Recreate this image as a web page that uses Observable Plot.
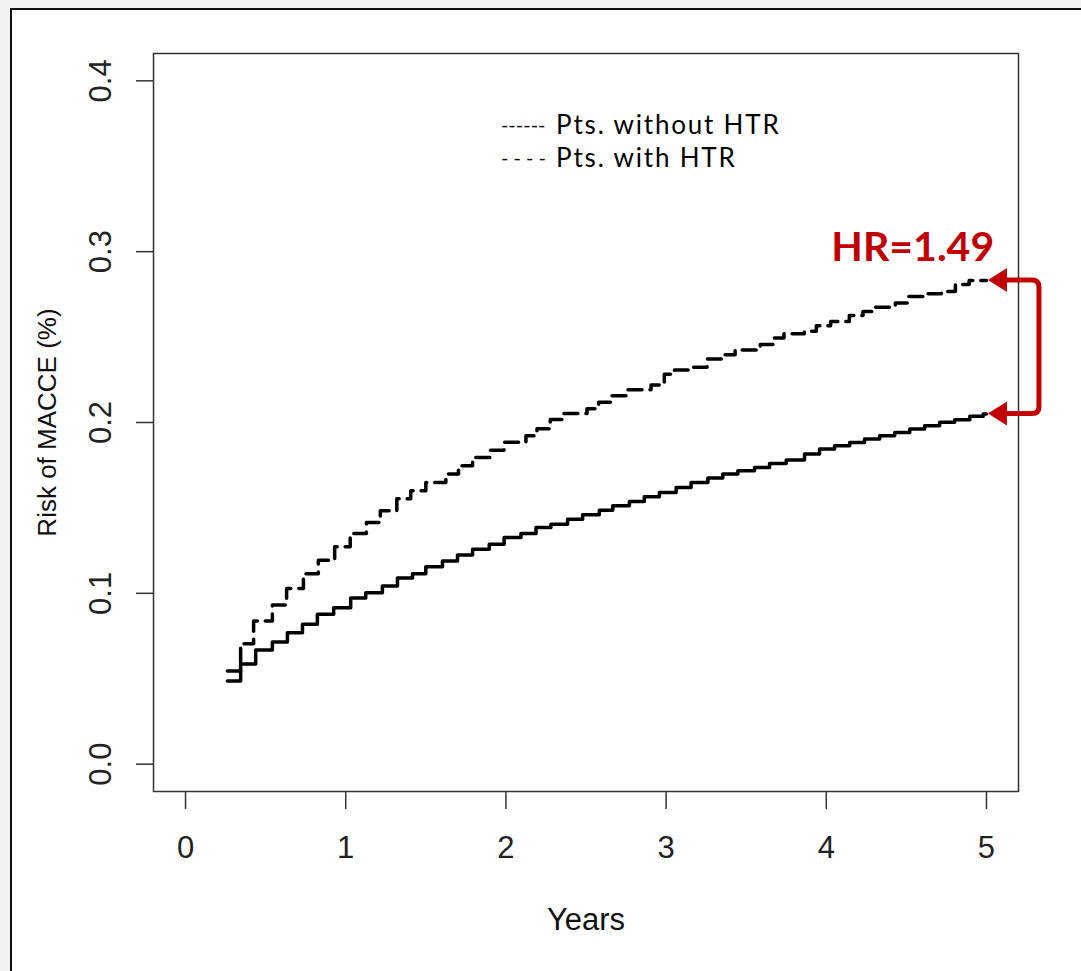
<!DOCTYPE html>
<html><head><meta charset="utf-8">
<script src="https://cdn.jsdelivr.net/npm/d3@7"></script>
<script src="https://cdn.jsdelivr.net/npm/@observablehq/plot@0.6"></script>
<style>
html,body{margin:0;padding:0;background:#f2f2f2;width:1081px;height:971px;overflow:hidden;}
#page{position:absolute;left:10px;top:8px;width:1100px;height:1000px;background:#fff;border-left:2px solid #111;border-top:2px solid #111;}
#chart{position:absolute;left:0;top:0;}
g[fill="#010101"] text{letter-spacing:1.8px;}
</style></head>
<body><div id="page"></div><div id="chart"></div>
<script>
// Pts. without HTR (solid step curve)
const withoutTime = [0.261,0.344,0.438,0.542,0.636,0.730,0.823,0.925,1.031,1.125,1.229,1.323,1.417,1.500,1.604,1.698,1.792,1.896,1.989,2.094,2.188,2.281,2.385,2.479,2.583,2.667,2.771,2.864,2.958,3.063,3.156,3.261,3.354,3.448,3.552,3.646,3.750,3.864,3.958,4.052,4.146,4.239,4.333,4.427,4.521,4.614,4.708,4.802,4.896,4.980,5.000];
const withoutRisk = [0.0487,0.0586,0.0668,0.0715,0.0770,0.0819,0.0877,0.0916,0.0973,0.1004,0.1043,0.1090,0.1115,0.1155,0.1190,0.1225,0.1258,0.1288,0.1327,0.1350,0.1385,0.1405,0.1434,0.1460,0.1487,0.1512,0.1537,0.1565,0.1590,0.1620,0.1649,0.1675,0.1698,0.1717,0.1737,0.1760,0.1780,0.1815,0.1845,0.1864,0.1883,0.1903,0.1923,0.1942,0.1962,0.1981,0.2001,0.2016,0.2036,0.2050,0.2050];
// Pts. with HTR (dashed step curve)
const withTime = [0.261,0.344,0.425,0.542,0.631,0.736,0.829,0.931,1.028,1.129,1.216,1.319,1.406,1.500,1.625,1.704,1.792,1.902,1.988,2.125,2.194,2.277,2.356,2.506,2.579,2.663,2.756,2.906,2.989,3.052,3.169,3.256,3.344,3.431,3.588,3.673,3.736,3.863,3.938,4.027,4.144,4.229,4.308,4.431,4.514,4.611,4.719,4.806,4.892,5.000];
const withRisk = [0.0545,0.0705,0.0838,0.0932,0.1028,0.1115,0.1194,0.1272,0.1350,0.1414,0.1483,0.1553,0.1600,0.1649,0.1698,0.1747,0.1795,0.1838,0.1884,0.1923,0.1963,0.2017,0.2052,0.2081,0.2119,0.2157,0.2192,0.2220,0.2283,0.2308,0.2323,0.2371,0.2396,0.2425,0.2456,0.2494,0.2519,0.2534,0.2567,0.2591,0.2626,0.2650,0.2675,0.2700,0.2737,0.2753,0.2767,0.2808,0.2831,0.2831];

const xTicks = [0,1,2,3,4,5];
const yTicks = [0.0,0.1,0.2,0.3,0.4];
const legendSamples = ["------", "- - - -"];
const legendLabels = ["Pts. without HTR", "Pts. with HTR"];
const hrLabel = "HR=1.49";
const xTitle = "Years";
const yTitle = "Risk of MACCE (%)";

const withoutData = withoutTime.map((t,i)=>({t, r: withoutRisk[i]}));
const withData = withTime.map((t,i)=>({t, r: withRisk[i]}));
const RED = "#C00000";

const bracket = (index, scales) => {
  const x = scales.x, y = scales.y;
  const xt = x(5) + 2;
  const y1 = y(withRisk[withRisk.length-1]);
  const y2 = y(withoutRisk[withoutRisk.length-1]);
  const xb = xt + 19, xr = xt + 51, r = 7;
  const g = d3.create("svg:g");
  g.append("path")
    .attr("d", `M${xb},${y1} H${xr-r} Q${xr},${y1} ${xr},${y1+r} V${y2-r} Q${xr},${y2} ${xr-r},${y2} H${xb}`)
    .attr("fill","none").attr("stroke",RED).attr("stroke-width",5);
  for (const yy of [y1,y2]) {
    g.append("path").attr("d", `M${xt},${yy} L${xb},${yy-12} L${xb},${yy+12} Z`).attr("fill",RED);
  }
  return g.node();
};

const legendY = [0.3737, 0.3544];

const chart = Plot.plot({
  width: 1081, height: 971,
  marginLeft: 153, marginRight: 63, marginTop: 53, marginBottom: 180,
  style: {background: "transparent", fontFamily: "'Liberation Sans', Arial, sans-serif", fontSize: "30px", overflow: "visible"},
  x: {domain: [-0.2, 5.2], label: null},
  y: {domain: [-0.016, 0.416], label: null},
  marks: [
    Plot.axisX({ticks: xTicks, tickSize: 18, tickFormat: () => "", label: null, stroke: "#333", strokeWidth: 1.5}),
    Plot.axisY({ticks: yTicks, tickSize: 17, tickFormat: () => "", label: null, stroke: "#333", strokeWidth: 1.5}),
    Plot.text(xTicks, {x: d => d, frameAnchor: "bottom", dy: 66, text: d => String(d), fontSize: 31, fill: "#222"}),
    Plot.text(yTicks, {y: d => d, frameAnchor: "left", dx: -52, rotate: -90, textAnchor: "middle", text: d => d.toFixed(1), fontSize: 31, fill: "#222"}),
    Plot.text([yTitle], {frameAnchor: "left", dx: -106, rotate: -90, textAnchor: "middle", fontSize: 26, fill: "#111"}),
    Plot.text([xTitle], {frameAnchor: "bottom", dy: 138, fontSize: 31, fill: "#111", fontFamily: "'Liberation Sans Narrow', 'Liberation Sans', Arial, sans-serif"}),
    Plot.frame({stroke: "#333", strokeWidth: 1.5}),
    Plot.line(withoutData, {x: "t", y: "r", curve: "step-after", stroke: "black", strokeWidth: 3.5}),
    Plot.line(withData, {x: "t", y: "r", curve: "step-after", stroke: "black", strokeWidth: 3.5, strokeDasharray: "14,8"}),
    Plot.text(legendSamples, {x: 1.969, y: (d, i) => legendY[i], text: d => d, textAnchor: "start", fontSize: 20, fontFamily: "Lato, 'Open Sans', sans-serif", fill: "#000"}),
    Plot.text(legendLabels, {x: 2.313, y: (d, i) => legendY[i], text: d => d, textAnchor: "start", fontSize: 26, fontFamily: "Lato, 'Open Sans', sans-serif", fill: "#010101"}),
    Plot.text([hrLabel], {x: 4.54, y: 0.302, text: d => d, fontSize: 41, fontWeight: "bold", fontFamily: "Lato, 'Open Sans', sans-serif", fill: RED}),
    bracket
  ]
});
document.getElementById("chart").appendChild(chart);
</script>
</body></html>
